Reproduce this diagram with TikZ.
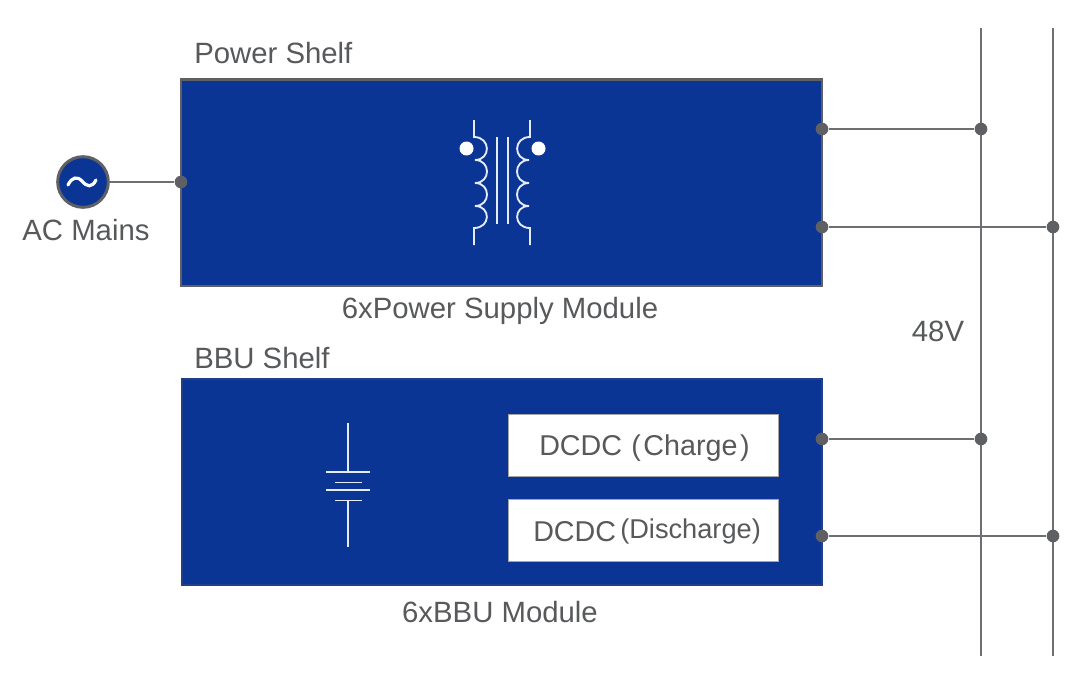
\documentclass[tikz,border=0pt]{standalone}
\usepackage{fontspec}
\setmainfont{Liberation Sans}
\definecolor{shelfblue}{HTML}{0B3595}
\definecolor{edgegray}{HTML}{5F6064}
\definecolor{textgray}{HTML}{58595B}
\definecolor{wireline}{HTML}{6E6F72}
\definecolor{symline}{HTML}{E4ECF9}
\tikzset{
  shelf/.style={draw=edgegray,line width=2pt,fill=shelfblue,minimum width=480pt,inner sep=0pt},
  whitebox/.style={fill=white,draw=gray!70,line width=.4pt,minimum width=202.5pt,minimum height=46.5pt,inner sep=0pt},
  lbl/.style={text=textgray,font=\fontsize{22}{26}\selectfont,inner sep=0pt},
  dotn/.style={circle,fill=edgegray,minimum size=9.5pt,inner sep=0pt},
  wire/.style={draw=wireline,line width=1.1pt},
  sym/.style={draw=symline,line width=1.4pt}
}
\begin{document}
\begin{tikzpicture}[x=.75pt,y=-.75pt]
\useasboundingbox (0,0) rectangle (1080,674);
\fill[white] (0,0) rectangle (1080,674);
% shelves
\node[shelf,minimum width=480.75pt,minimum height=155pt] (ps) at (501.5,182.5) {};
\node[shelf,draw=shelfblue!75!edgegray,line width=1pt,minimum width=480pt,minimum height=154.5pt] (bbu) at (502,482) {};
\node[whitebox] (chg) at (643.5,445) {};
\node[whitebox] (dis) at (643.5,530.5) {};
% labels
\node[lbl,anchor=base west] (pslab) at (194,64) {Power Shelf};
\node[lbl,anchor=base west] (bbulab) at (194,368) {BBU Shelf};
\node[lbl,anchor=base] (psm) at (500,318) {6xPower Supply Module};
\node[lbl,anchor=base] (bbm) at (500,622) {6xBBU Module};
\node[lbl,anchor=base] (v48) at (938,341) {48V};
\node[lbl,anchor=base] (acl) at (86,240) {AC Mains};
\node[lbl,anchor=base west,font=\fontsize{21.5}{26}\selectfont] (t1) at (539,455) {DCDC};
\node[lbl,anchor=base west,font=\fontsize{21.5}{26}\selectfont] (t1b) at (631,455) {(\hspace{2pt}Charge\hspace{2pt})};
\node[lbl,anchor=base west,font=\fontsize{21.5}{26}\selectfont] (t2) at (533,541) {DCDC};
\node[lbl,anchor=base west,font=\fontsize{20.4}{26}\selectfont] (t2b) at (620,538) {(Discharge)};
% bus ends
\coordinate (b1t) at (981,28); \coordinate (b1b) at (981,656);
\coordinate (b2t) at (1053,28); \coordinate (b2b) at (1053,656);
\draw[wire] (b1t) -- (b1b);
\draw[wire] (b2t) -- (b2b);
% AC source
\node[circle,draw=edgegray,line width=2.2pt,fill=shelfblue,minimum size=38pt,inner sep=0pt] (ac) at (83,182) {};
\draw[white,line width=2.4pt,line cap=round] (68,185) .. controls (72,177) and (77,176) .. (82,181) .. controls (87,187) and (92,188) .. (96,180);
\node[dotn] (d0) at (181,182) {};
\draw[wire] (ac) -- (d0);
% output dots
\node[dotn] (o1) at (822,129) {};  \node[dotn] (j1) at (981,129) {};
\node[dotn] (o2) at (822,227) {};  \node[dotn] (j2) at (1053,227) {};
\node[dotn] (o3) at (822,439) {};  \node[dotn] (j3) at (981,439) {};
\node[dotn] (o4) at (822,536) {};  \node[dotn] (j4) at (1053,536) {};
\draw[wire] (o1) -- (j1);
\draw[wire] (o2) -- (j2);
\draw[wire] (o3) -- (j3);
\draw[wire] (o4) -- (j4);
% transformer
\draw[sym] (474,120) -- (474,137)
  .. controls (491,137) and (491,160) .. (475,160)
  .. controls (491,160) and (491,183) .. (475,183)
  .. controls (491,183) and (491,206) .. (475,206)
  .. controls (491,206) and (491,228) .. (474,228) -- (474,245);
\draw[sym] (530,120) -- (530,137)
  .. controls (513,137) and (513,160) .. (529,160)
  .. controls (513,160) and (513,183) .. (529,183)
  .. controls (513,183) and (513,206) .. (529,206)
  .. controls (513,206) and (513,228) .. (530,228) -- (530,245);
\draw[sym] (497,137) -- (497,224);
\draw[sym] (508,137) -- (508,224);
\fill[white] (466.5,148.5) circle (7);
\fill[white] (538.5,148.5) circle (7);
% battery
\draw[sym] (348,423) -- (348,472);
\draw[sym] (326,472) -- (370,472);
\draw[sym] (335,482.5) -- (362,482.5);
\draw[sym] (326,490) -- (370,490);
\draw[sym] (335,500.5) -- (362,500.5);
\draw[sym] (348,500.5) -- (348,547);
\end{tikzpicture}
\end{document}
